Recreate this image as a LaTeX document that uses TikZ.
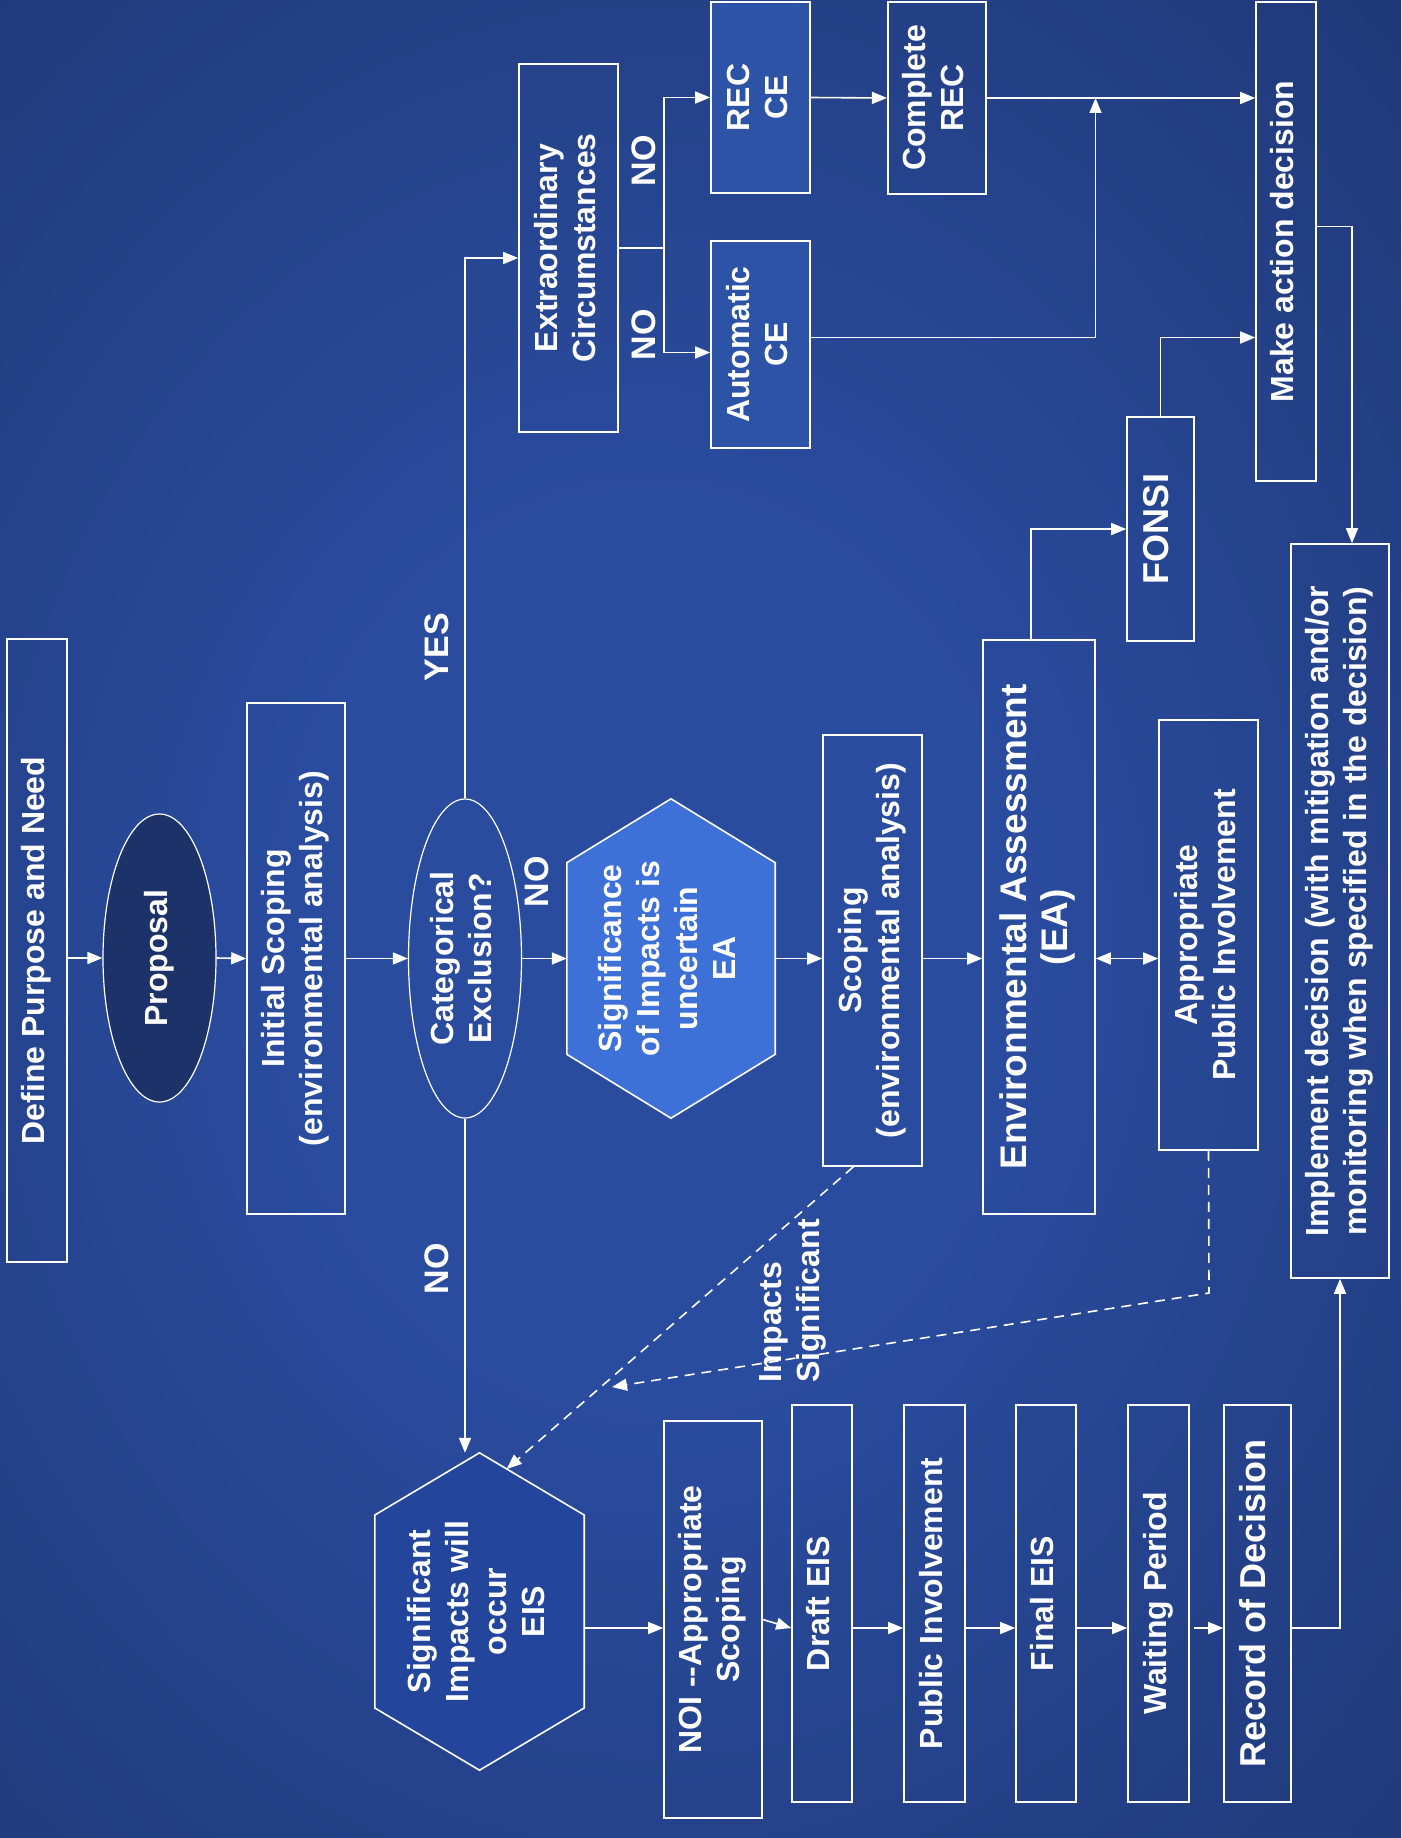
\documentclass[tikz,border=0pt]{standalone}
\usepackage{fontspec}
\setmainfont{Liberation Sans}
\usetikzlibrary{arrows.meta,shapes.geometric,calc,backgrounds}

\definecolor{bgin}{HTML}{2A4C9F}
\definecolor{bgout}{HTML}{172958}
\definecolor{propfill}{HTML}{1C3268}
\definecolor{sigfill}{HTML}{3D71D8}
\definecolor{eisfill}{HTML}{23469C}
\definecolor{cefill}{HTML}{2C53A5}

\pgfdeclareradialshading{bgglow}{\pgfpoint{0bp}{0bp}}{color(0bp)=(bgin); color(10bp)=(bgin); color(46bp)=(bgout); color(80bp)=(bgout)}

% text set upright along the long side of a box
\newcommand\vlabel[2][c]{\rotatebox{90}{\begin{tabular}{@{}#1@{}}#2\end{tabular}}}

\begin{document}
\begin{tikzpicture}[x=1pt,y=-1pt,
  >={Triangle[length=15pt,width=12pt]},
  every node/.style={font=\fontsize{32}{38}\selectfont\bfseries, text=white, inner sep=0pt},
  box/.style={draw=white, line width=1.6pt, rectangle},
  oval/.style={draw=white, line width=1.2pt, ellipse},
  hexa/.style={rectangle},
  lbl/.style={font=\fontsize{34}{40}\selectfont\bfseries},
  link/.style={draw=white, line width=1.6pt, ->},
  plain/.style={draw=white, line width=1.6pt},
  dlink/.style={link, dash pattern=on 10pt off 7pt}]

\useasboundingbox (0,0) rectangle (1401,1838);
\begin{scope}[on background layer]
  \clip (0,0) rectangle (1401,1838);
  \shade[shading=bgglow] (-250,-150) rectangle (1550,2050);
\end{scope}

% main column
\node[box, minimum width=60pt, minimum height=623pt] (def) at (37,950.5) {\vlabel{Define Purpose and Need}};
\node[oval, fill=propfill, minimum width=113pt, minimum height=288pt] (prop) at (159.5,958) {\vlabel{Proposal}};
\node[box, minimum width=98pt, minimum height=511pt] (init) at (296,958.5) {\vlabel{Initial Scoping\\(environmental analysis)}};
\node[oval, minimum width=113pt, minimum height=319pt] (cat) at (465,958.5) {\vlabel{Categorical\\Exclusion?}};
\node[hexa, minimum width=208pt, minimum height=319pt] (sig) at (671,958.5) {\vlabel{Significance\\of Impacts is\\uncertain\\EA}};
\node[box, minimum width=99pt, minimum height=431pt] (scope) at (872.5,950.5) {\vlabel{Scoping\\(environmental analysis)}};
\node[box, minimum width=112pt, minimum height=574pt, font=\fontsize{37}{41}\selectfont\bfseries] (ea) at (1039,927) {\vlabel{Environmental Assessment\\(EA)}};
\node[box, minimum width=99pt, minimum height=430pt] (appi) at (1208.5,935) {\vlabel{Appropriate\\Public Involvement}};
\node[box, minimum width=98pt, minimum height=734pt] (impl) at (1340,911) {\vlabel{Implement decision (with mitigation and/or\\monitoring when specified in the decision)}};

% categorical exclusion branch
\node[box, minimum width=99pt, minimum height=368pt] (extra) at (568.5,248) {\vlabel{Extraordinary\\Circumstances}};
\node[box, fill=cefill, minimum width=99pt, minimum height=191pt] (rec) at (760.5,97.5) {\vlabel{REC\\CE}};
\node[box, fill=cefill, minimum width=99pt, minimum height=207pt] (auto) at (760.5,344.5) {\vlabel{Automatic\\CE}};
\node[box, minimum width=98.5pt, minimum height=192pt] (crec) at (937,98) {\vlabel{Complete\\REC}};
\node[box, minimum width=60pt, minimum height=479pt] (make) at (1286,241.5) {\vlabel{Make action decision}};
\node[box, minimum width=67pt, minimum height=224pt, font=\fontsize{36}{40}\selectfont\bfseries] (fonsi) at (1160.5,529) {\vlabel{FONSI}};

% EIS chain
\node[hexa, minimum width=209pt, minimum height=317pt] (eis) at (479.5,1611.5) {\vlabel{Significant\\Impacts will\\occur\\EIS}};
\node[box, minimum width=98pt, minimum height=397pt] (noi) at (713,1619.5) {\vlabel{NOI -{}-Appropriate\\Scoping}};
\node[box, minimum width=60pt, minimum height=397pt] (draft) at (822,1603.5) {\vlabel{Draft EIS}};
\node[box, minimum width=61pt, minimum height=397pt] (pinv) at (934.5,1603.5) {\vlabel{Public Involvement}};
\node[box, minimum width=60pt, minimum height=397pt] (final) at (1046,1603.5) {\vlabel{Final EIS}};
\node[box, minimum width=61pt, minimum height=397pt] (wait) at (1158.5,1603.5) {\vlabel{Waiting Period}};
\node[box, minimum width=67pt, minimum height=397pt, font=\fontsize{36}{42}\selectfont\bfseries] (rod) at (1257.5,1603.5) {\vlabel{Record of Decision}};

% hexagon outlines behind their text
\begin{scope}[on background layer]
\foreach \h/\f/\c in {sig/sigfill/0.2, eis/eisfill/0.196} {
  \coordinate (\h-nw) at ($(\h.north west)!\c!(\h.south west)$);
  \coordinate (\h-sw) at ($(\h.south west)!\c!(\h.north west)$);
  \coordinate (\h-se) at ($(\h.south east)!\c!(\h.north east)$);
  \coordinate (\h-ne) at ($(\h.north east)!\c!(\h.south east)$);
  \filldraw[fill=\f, draw=white, line width=1.6pt]
    (\h.north) -- (\h-nw) -- (\h-sw) -- (\h.south) -- (\h-se) -- (\h-ne) -- cycle;
}
\end{scope}

% branch labels
\node[lbl] (yes) at (440,647) {\vlabel{YES}};
\node[lbl] (noea) at (540,882) {\vlabel{NO}};
\node[lbl] (noeis) at (440,1269) {\vlabel{NO}};
\node[lbl] (norec) at (647,161) {\vlabel{NO}};
\node[lbl] (noauto) at (647,335) {\vlabel{NO}};
\node (imp) at (793,1301) {\vlabel[l]{Impacts\\Significant}};

% helper points
\coordinate (eisrow) at (0,1628);
\coordinate (split) at (664,248);
\coordinate (merge) at (1095.5,98);
\coordinate (dbend) at (1209,1293);
\coordinate (dend) at (612,1387);

% connectors of the main column
\draw[link] (def.east |- prop.west) -- (prop.west);
\draw[link] (prop.east) -- (init.west);
\draw[link] (init.east) -- (cat.west);
\draw[link] (cat.east) -- (sig.west);
\draw[link] (sig.east) -- (sig.east -| scope.west);
\draw[link] (scope.east |- sig.east) -- (ea.west |- sig.east);
\draw[link, <->] (ea.east |- sig.east) -- (appi.west |- sig.east);

% categorical exclusion branch
\draw[link] (cat.north) |- ([yshift=-10pt]extra.west);
\draw[plain] (extra.east) -- (split);
\draw[link] (split) |- (rec.west);
\draw[link] (split) |- ([yshift=-8pt]auto.west);
\draw[link] (rec.east) -- (crec.west);
\draw[link] (crec.east) -- (crec.east -| make.west);
\draw[link] ([yshift=7pt]auto.east) -| (merge);
\draw[link] ([xshift=-8pt]ea.north) |- (fonsi.west);
\draw[link] (fonsi.north) |- ([yshift=-96pt]make.west);
\draw[link] ([yshift=15pt]make.east) -| ([xshift=12pt]impl.north);

% significant impacts
\draw[link] (cat.south) -- (cat.south |- eis.north);
\draw[dlink] ($(scope.south west)!0.31!(scope.south east)$) -- ($(eis.north)!0.26!(eis-ne)$);
\draw[dlink] (appi.south) -- (dbend) -- (dend);

% EIS chain
\draw[link] (eis.east |- eisrow) -- (noi.west |- eisrow);
\draw[link] (noi.east) -- (draft.west |- eisrow);
\draw[link] (draft.east |- eisrow) -- (pinv.west |- eisrow);
\draw[link] (pinv.east |- eisrow) -- (final.west |- eisrow);
\draw[link] (final.east |- eisrow) -- (wait.west |- eisrow);
\draw[link] ([xshift=4pt]wait.east |- eisrow) -- (rod.west |- eisrow);
\draw[link] (rod.east |- eisrow) -| (impl.south);
\end{tikzpicture}
\end{document}
